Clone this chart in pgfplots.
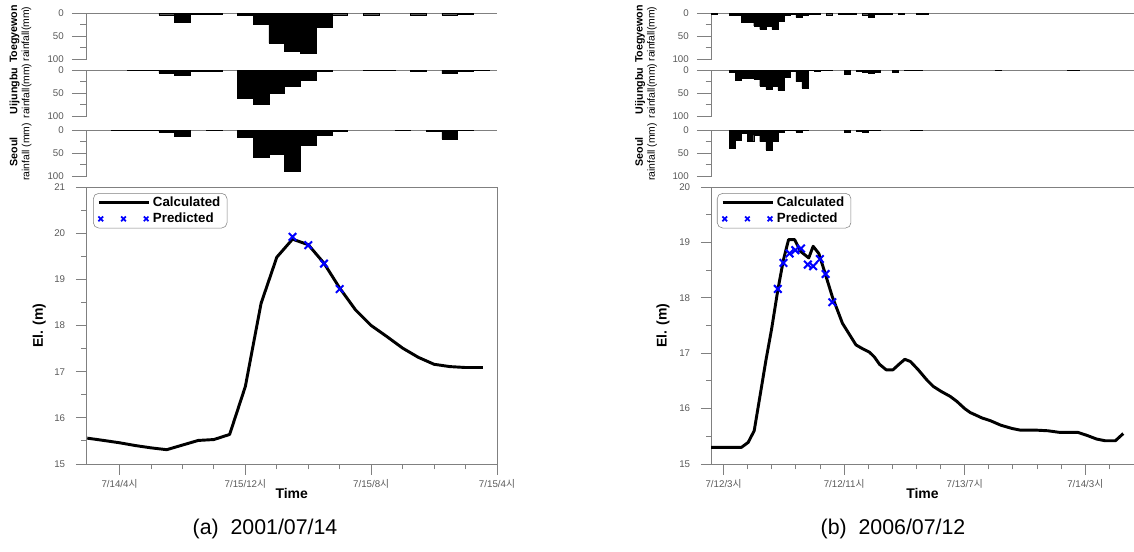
\documentclass[border=0pt]{standalone}
\usepackage{fontspec}
\setmainfont{Liberation Sans}
\newfontfamily\kr{Noto Sans CJK KR}
\usepackage{pgfplots}
\pgfplotsset{compat=1.18}

\definecolor{axgray}{gray}{0.5}
\definecolor{tickgray}{gray}{0.35}

\pgfplotsset{
  base/.style={
    scale only axis, anchor=north west, clip=false,
    axis line style={axgray, line width=0.7pt},
    tick style={axgray, line width=0.7pt},
    tick align=outside,
    /pgf/number format/assume math mode=true,
    ticklabel style={font=\fontsize{7.3}{8}\selectfont, text=tickgray},
  },
  rain/.style={
    base, height=34.5pt,
    axis x line*=top, axis y line*=left,
    xtick=\empty, ymin=-100, ymax=0,
    ytick={-100,-50,0}, yticklabels={100,50,0}, minor ytick={-75,-25},
    major tick length=11pt, minor tick length=4.5pt,
    yticklabel style={xshift=-2.5pt},
    y filter/.expression={-y},
  },
  bars/.style={ybar, bar width=1, fill=black, draw=black, line width=0.3pt},
  stage/.style={
    base, height=207.75pt, ymin=15,
    major tick length=8pt, minor tick length=4pt,
    yticklabel style={xshift=-4.5pt},
    xlabel={Time}, ylabel={El. (m)},
    label style={font=\bfseries\fontsize{10.5}{11}\selectfont},
    xlabel style={at={(axis description cs:0.5,-0.105)}, anchor=center},
    ylabel style={at={(axis description cs:-0.115,0.5)}, anchor=center},
    legend style={anchor=north west, draw=axgray, rounded corners=4pt,
      font=\bfseries\fontsize{10}{11}\selectfont, inner xsep=3pt, inner ysep=0.5pt,
      row sep=-0.5pt, cells={anchor=west}},
  },
  calc/.style={black, line width=2.2pt, line join=round, no marks,
    legend image code/.code={\draw[##1] (0pt,0pt) -- (37.5pt,0pt);}},
  pred/.style={only marks, mark=x, mark size=4pt, blue, line width=1.5pt,
    legend image code/.code={\draw[##1, mark size=2.5pt, line width=1.3pt]
      plot coordinates {(1.5pt,0pt) (18.5pt,0pt) (35.5pt,0pt)};}},
}

\begin{document}
\begin{tikzpicture}
\path[use as bounding box] (0pt,0pt) rectangle (850.5pt,-413.25pt);

% ---------------- (a) 2001/07/14 ----------------
\begin{axis}[rain, at={(64.875pt,-10pt)}, width=307.875pt, xmin=-2.1, xmax=24]
\addplot[bars] coordinates {
  (3,3) (4,20) (5,1) (6,1) (8,4) (9,24) (10,65) (11,82) (12,87) (13,30)
  (14,3) (16,3) (19,3) (21,3) (22,2)};
\end{axis}
\begin{axis}[rain, at={(64.875pt,-52.5pt)}, width=307.875pt, xmin=-2.1, xmax=24]
\addplot[bars] coordinates {
  (1,1) (2,1) (3,6) (4,12) (5,2) (6,2) (8,61) (9,75) (10,51) (11,35)
  (12,22) (13,2) (16,1) (17,1) (19,2) (21,8) (22,3) (23,1)};
\end{axis}
\begin{axis}[rain, at={(64.875pt,-97.5pt)}, width=307.875pt, xmin=-2.1, xmax=24]
\addplot[bars] coordinates {
  (0,1) (1,1) (2,1) (3,4) (4,14) (6,1) (8,16) (9,59) (10,53) (11,90)
  (12,34) (13,11) (14,2) (18,1) (20,3) (21,20) (22,1)};
\end{axis}

\begin{axis}[stage, at={(64.875pt,-140.25pt)}, width=307.875pt,
  xmin=-2.1, xmax=24, ymax=21, tick pos=left,
  xtick={0,8,16,24},
  xticklabels={7/14/4{\kr 시}, 7/15/12{\kr 시}, 7/15/8{\kr 시}, 7/15/4{\kr 시}},
  minor xtick={2,4,6,10,12,14,18,20,22},
  ytick={15,16,...,21}, minor ytick={15.5,16.5,...,20.5},
  legend style={at={(0.016,0.978)}}]
\addplot[calc] coordinates {
  (-2.05,15.56) (-1,15.51) (0,15.46) (1,15.40) (2,15.35) (3,15.31) (4,15.41)
  (5,15.51) (6,15.53) (7,15.64) (8,16.68) (9,18.48) (10,19.48) (11,19.87)
  (12,19.75) (13,19.35) (14,18.81) (15,18.34) (16,18.00) (17,17.76) (18,17.51)
  (19,17.31) (20,17.16) (21,17.11) (22,17.09) (23.1,17.09)};
\addplot[pred] coordinates {(11,19.92) (12,19.74) (13,19.34) (14,18.79)};
\legend{Calculated, Predicted}
\end{axis}

\node[rotate=90, align=center, inner sep=0pt, font=\fontsize{7.8}{9}\selectfont]
  at (15.4pt,-25.5pt) {{\bfseries\fontsize{8}{9}\selectfont Toegyewon}\\rainfall(mm)};
\node[rotate=90, align=center, inner sep=0pt, font=\fontsize{7.8}{9}\selectfont]
  at (15.4pt,-68.25pt) {{\bfseries\fontsize{8}{9}\selectfont Uijungbu}\\rainfall(mm)};
\node[rotate=90, align=center, inner sep=0pt, font=\fontsize{7.8}{9}\selectfont]
  at (15.4pt,-114pt) {{\bfseries\fontsize{8}{9}\selectfont Seoul}\\rainfall (mm)};

% ---------------- (b) 2006/07/12 ----------------
\begin{axis}[rain, at={(533.625pt,-10pt)}, width=316.5pt, xmin=-2, xmax=68]
\addplot[bars] coordinates {
  (-1.5,1) (1.5,4) (2.5,5) (3.5,20) (4.5,20) (5.5,27) (6.5,35) (7.5,28)
  (8.5,35) (9.5,18) (10.5,4) (11.5,2) (12.5,9) (13.5,4) (14.5,2) (15.5,1)
  (17.5,3) (19.5,1) (20.5,1) (21.5,1) (23.5,3) (24.5,8) (25.5,1) (26.5,1)
  (27.5,1) (29.5,2) (32.5,1) (33.5,1)};
\end{axis}
\begin{axis}[rain, at={(533.625pt,-52.5pt)}, width=316.5pt, xmin=-2, xmax=68]
\addplot[bars] coordinates {
  (1.5,4) (2.5,23) (3.5,18) (4.5,18) (5.5,20) (6.5,35) (7.5,42) (8.5,35)
  (9.5,44) (10.5,16) (11.5,3) (12.5,25) (13.5,39) (14.5,1) (15.5,2) (16.5,1)
  (17.5,1) (20.5,9) (22.5,3) (23.5,4) (24.5,8) (25.5,5) (28.5,4) (30.5,1)
  (31.5,1) (32.5,1) (45.5,1) (57.5,1) (58.5,1)};
\end{axis}
\begin{axis}[rain, at={(533.625pt,-97.5pt)}, width=316.5pt, xmin=-2, xmax=68]
\addplot[bars] coordinates {
  (1.5,40) (2.5,22) (3.5,7) (4.5,25) (5.5,11) (6.5,25) (7.5,43) (8.5,25)
  (9.5,5) (10.5,1) (11.5,1) (12.5,4) (13.5,1) (20.5,4) (22.5,2) (23.5,4)
  (24.5,1) (25.5,1) (31.5,1) (32.5,1)};
\end{axis}

\begin{axis}[stage, at={(533.625pt,-140.25pt)}, width=316.5pt,
  xmin=-2, xmax=68, ymax=20,
  axis x line*=box, axis y line*=left, xtick pos=left, ytick pos=left,
  xtick={0,20,40,60},
  xticklabels={7/12/3{\kr 시}, 7/12/11{\kr 시}, 7/13/7{\kr 시}, 7/14/3{\kr 시}},
  minor xtick={4,8,12,16,24,28,32,36,44,48,52,56,64},
  ytick={15,16,...,20}, minor ytick={15.5,16.5,...,19.5},
  legend style={at={(0.013,0.978)}}]
\addplot[calc] coordinates {
  (-2.07,15.30) (2.96,15.30) (4.08,15.39) (5.08,15.60) (6.03,16.22) (7.04,16.88)
  (7.99,17.45) (9.0,18.14) (9.94,18.69) (10.78,19.05) (11.79,19.05) (12.74,18.84)
  (14.13,18.72) (14.86,18.93) (15.8,18.80) (16.65,18.51) (18.04,18.02)
  (19.72,17.54) (21.96,17.15) (23.07,17.08) (24.19,17.02) (25.03,16.93)
  (25.87,16.80) (26.98,16.70) (28.1,16.70) (29.2,16.81) (30.06,16.89)
  (31.0,16.85) (32.3,16.70) (33.7,16.52) (34.8,16.40) (36.1,16.31)
  (37.6,16.22) (38.7,16.13) (40.0,16.00) (40.9,15.93) (42.9,15.83)
  (44.3,15.78) (46.0,15.70) (47.9,15.64) (49.3,15.61) (52.1,15.61)
  (53.8,15.60) (55.8,15.57) (58.8,15.57) (60.2,15.52) (61.9,15.45)
  (63.3,15.42) (65.0,15.42) (66.3,15.55)};
\addplot[pred] coordinates {
  (9.0,18.16) (9.94,18.63) (10.95,18.80) (11.9,18.86) (12.85,18.89)
  (13.97,18.60) (14.86,18.57) (15.98,18.70) (16.93,18.43) (18.04,17.92)};
\legend{Calculated, Predicted}
\end{axis}

\node[rotate=90, align=center, inner sep=0pt, font=\fontsize{7.8}{9}\selectfont]
  at (484.5pt,-25.5pt) {{\bfseries\fontsize{8}{9}\selectfont Toegyewon}\\rainfall(mm)};
\node[rotate=90, align=center, inner sep=0pt, font=\fontsize{7.8}{9}\selectfont]
  at (484.5pt,-68.25pt) {{\bfseries\fontsize{8}{9}\selectfont Uijungbu}\\rainfall(mm)};
\node[rotate=90, align=center, inner sep=0pt, font=\fontsize{7.8}{9}\selectfont]
  at (484.5pt,-114pt) {{\bfseries\fontsize{8}{9}\selectfont Seoul}\\rainfall (mm)};

% captions
\node[font=\fontsize{16}{18}\selectfont] at (198.75pt,-396.75pt) {(a)\ \ 2001/07/14};
\node[font=\fontsize{16}{18}\selectfont] at (669.75pt,-396.75pt) {(b)\ \ 2006/07/12};
\end{tikzpicture}
\end{document}
